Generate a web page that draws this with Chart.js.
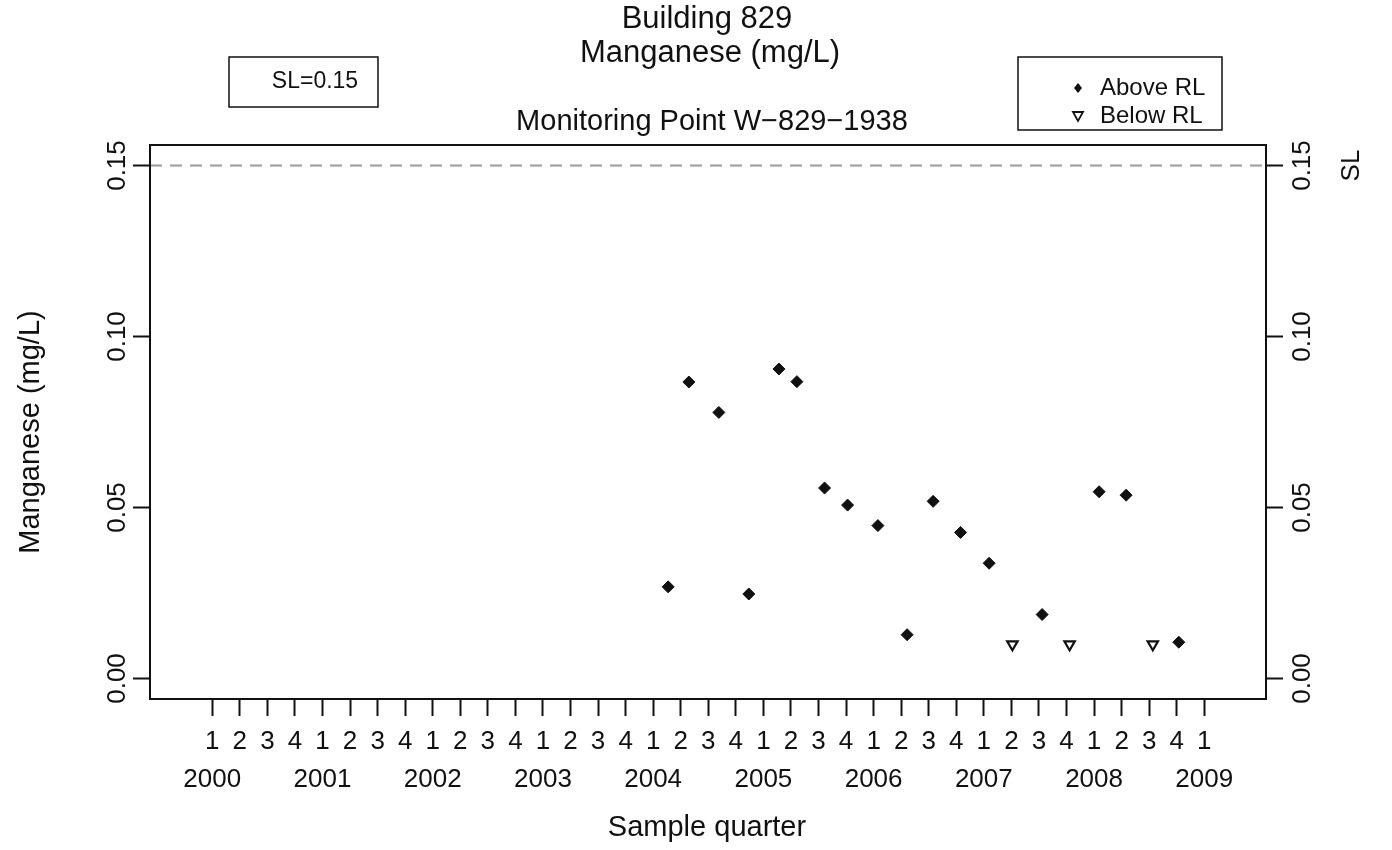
<!DOCTYPE html>
<html lang="en">
<head>
<meta charset="UTF-8">
<title>Building 829 Manganese</title>
<script src="https://cdn.jsdelivr.net/npm/chart.js"></script>
<style>
  body { margin: 0; background: #fff; }
</style>
</head>
<body>
<canvas id="mnChart" width="1392" height="850"></canvas>

<script>
    // sample dates as decimal years, values in mg/L
    const aboveDates = [2004.136, 2004.324, 2004.596, 2004.868, 2005.141, 2005.304, 2005.555, 2005.764,
                        2006.039, 2006.304, 2006.540, 2006.789, 2007.048, 2007.529, 2008.046, 2008.291, 2008.769];
    const aboveValues = [0.0268, 0.0867, 0.0778, 0.0247, 0.0905, 0.0868, 0.0557, 0.0507,
                         0.0447, 0.0128, 0.0518, 0.0427, 0.0337, 0.0187, 0.0546, 0.0536, 0.0106];
    const belowDates = [2007.259, 2007.778, 2008.533];
    const belowValues = [0.01, 0.01, 0.01];

    const SL = 0.15;
    const yTicks = [0, 0.05, 0.10, 0.15];
    const yTickLabels = ['0.00', '0.05', '0.10', '0.15'];
    const firstYear = 2000, lastYear = 2009;
    const xMin = 1999.435, xMax = 2009.56;
    const yMin = -0.006, yMax = 0.156;

    const FONT = '"Liberation Sans", Arial, Helvetica, sans-serif';

    // quarter tick positions 2000 Q1 ... 2009 Q1
    const quarterTicks = [];
    for (let y = firstYear; y <= lastYear; y++) {
        for (let q = 0; q < 4; q++) {
            if (y === lastYear && q > 0) break;
            quarterTicks.push(y + q * 0.25);
        }
    }

    const toPoints = (xs, ys) => xs.map((x, i) => ({x: x, y: ys[i]}));

    const frame = {
        id: 'frame',
        beforeDatasetsDraw(chart) {
            const {ctx, chartArea: a, scales} = chart;
            const ySL = scales.y.getPixelForValue(SL);
            ctx.save();
            ctx.strokeStyle = '#999';
            ctx.lineWidth = 2;
            ctx.setLineDash([12, 8]);
            ctx.beginPath();
            ctx.moveTo(a.left, ySL);
            ctx.lineTo(a.right, ySL);
            ctx.stroke();
            ctx.restore();
        },
        afterDraw(chart) {
            const {ctx, chartArea: a, scales} = chart;
            ctx.save();
            // plot box
            ctx.strokeStyle = '#111';
            ctx.lineWidth = 2;
            ctx.strokeRect(a.left, a.top, a.right - a.left, a.bottom - a.top);

            ctx.fillStyle = '#111';
            ctx.textAlign = 'center';
            ctx.textBaseline = 'middle';

            // titles
            ctx.font = '31px ' + FONT;
            ctx.fillText('Building 829', 707, 19);
            ctx.fillText('Manganese (mg/L)', 710, 53);
            ctx.font = '29px ' + FONT;
            ctx.fillText('Monitoring Point W\u2212829\u22121938', 712, 122);

            // rotated y tick labels, both sides
            ctx.font = '26px ' + FONT;
            yTicks.forEach((v, i) => {
                const py = scales.y.getPixelForValue(v);
                [118, 1303].forEach(px => {
                    ctx.save();
                    ctx.translate(px, py);
                    ctx.rotate(-Math.PI / 2);
                    ctx.fillText(yTickLabels[i], 0, 0);
                    ctx.restore();
                });
            });
            ctx.save();
            ctx.translate(1352, scales.y.getPixelForValue(SL));
            ctx.rotate(-Math.PI / 2);
            ctx.fillText('SL', 0, 0);
            ctx.restore();

            // axis titles
            ctx.font = '29px ' + FONT;
            ctx.fillText('Sample quarter', 707, 828);
            ctx.save();
            ctx.translate(31, 432);
            ctx.rotate(-Math.PI / 2);
            ctx.fillText('Manganese (mg/L)', 0, 0);
            ctx.restore();

            // SL box
            ctx.lineWidth = 1.5;
            ctx.strokeRect(229, 57, 149, 50);
            ctx.font = '23px ' + FONT;
            ctx.fillText('SL=0.15', 315, 82);

            // legend box
            ctx.strokeRect(1018, 57, 204, 73);
            ctx.textAlign = 'left';
            ctx.font = '24px ' + FONT;
            ctx.fillText('Above RL', 1100, 88);
            ctx.fillText('Below RL', 1100, 116);
            ctx.beginPath();
            ctx.moveTo(1078, 83); ctx.lineTo(1082, 88); ctx.lineTo(1078, 93); ctx.lineTo(1074, 88);
            ctx.closePath();
            ctx.fill();
            ctx.lineWidth = 1.8;
            ctx.beginPath();
            ctx.moveTo(1073, 112); ctx.lineTo(1083, 112); ctx.lineTo(1078, 121);
            ctx.closePath();
            ctx.stroke();
            ctx.restore();
        }
    };

    const ctx = document.getElementById('mnChart').getContext('2d');
    const mnChart = new Chart(ctx, {
        type: 'scatter',
        data: {
            datasets: [{
                label: 'Above RL',
                data: toPoints(aboveDates, aboveValues),
                pointStyle: 'rectRot',
                pointRadius: 6,
                backgroundColor: '#111',
                borderColor: '#111',
                borderWidth: 1
            }, {
                label: 'Below RL',
                data: toPoints(belowDates, belowValues),
                pointStyle: 'triangle',
                rotation: 180,
                pointRadius: 6,
                backgroundColor: '#fff',
                borderColor: '#111',
                borderWidth: 2.2
            }]
        },
        options: {
            responsive: false,
            animation: false,
            layout: { padding: { top: 145, left: 0, right: 0, bottom: 0 } },
            plugins: {
                legend: { display: false },
                tooltip: { enabled: false },
                title: { display: false }
            },
            scales: {
                x: {
                    type: 'linear',
                    min: xMin,
                    max: xMax,
                    afterBuildTicks: s => { s.ticks = quarterTicks.map(v => ({value: v})); },
                    afterFit: s => { s.height = 151; },
                    grid: { drawOnChartArea: false, tickLength: 17, tickWidth: 2, tickColor: '#111' },
                    border: { display: false },
                    ticks: {
                        autoSkip: false,
                        maxRotation: 0,
                        padding: 7,
                        color: '#111',
                        font: { family: FONT, size: 26, lineHeight: 1.45 },
                        callback: v => {
                            const yr = Math.floor(v + 1e-6);
                            const q = Math.round((v - yr) * 4) + 1;
                            return q === 1 ? ['1', String(yr)] : [String(q), ''];
                        }
                    }
                },
                y: {
                    position: 'left',
                    min: yMin,
                    max: yMax,
                    afterBuildTicks: s => { s.ticks = yTicks.map(v => ({value: v})); },
                    afterFit: s => { s.width = 150; },
                    grid: { drawOnChartArea: false, tickLength: 17, tickWidth: 2, tickColor: '#111' },
                    border: { display: false },
                    ticks: { display: false }
                },
                y2: {
                    position: 'right',
                    min: yMin,
                    max: yMax,
                    afterBuildTicks: s => { s.ticks = yTicks.map(v => ({value: v})); },
                    afterFit: s => { s.width = 126; },
                    grid: { drawOnChartArea: false, tickLength: 17, tickWidth: 2, tickColor: '#111' },
                    border: { display: false },
                    ticks: { display: false }
                }
            }
        },
        plugins: [frame]
    });
</script>
</body>
</html>
